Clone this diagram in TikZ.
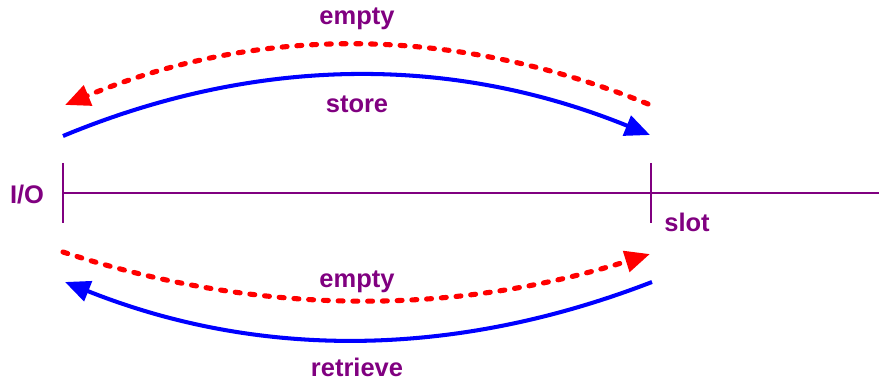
\documentclass[tikz,border=0pt]{standalone}
\usepackage{fontspec}
\setmainfont{Liberation Sans}
\usepackage{tikz}
\usetikzlibrary{calc}
\usetikzlibrary{arrows.meta}
\usetikzlibrary{positioning}
\definecolor{plum}{RGB}{128, 0, 128}
\definecolor{pureblue}{RGB}{0, 0, 255}
\definecolor{purered}{RGB}{255, 0, 0}
\tikzset{
    lbl/.style   = {text=plum, font=\fontsize{14.5}{17}\selectfont\bfseries, inner sep=0pt},
    axis/.style  = {draw=plum, line width=1.2pt},
    move/.style  = {draw=pureblue, line width=2.3pt, -{Triangle[length=0.5cm, width=0.42cm]}},
    blank/.style = {draw=purered, line width=2.9pt, line cap=round, dash pattern=on 2.8pt off 5.6pt,
                    -{Triangle[length=0.5cm, width=0.42cm, line cap=butt]}},
}

\begin{document}
\begin{tikzpicture}[x=0.02cm, y=-0.02cm]
            % Frame to ensure alignment:
            \useasboundingbox                                   (  0,   0) rectangle (879, 381);
            % Rail with the two stations:
            \coordinate (io)     at ( 63, 193);
            \coordinate (slot)   at (651, 193);
            \coordinate (railend) at (879, 193);
            \draw[axis] (io) -- (railend);
            \draw[axis] ($(io)+(0,-30)$)   -- ($(io)+(0,30)$);
            \draw[axis] ($(slot)+(0,-30)$) -- ($(slot)+(0,30)$);
            \node[lbl] (iolbl)   at ( 27, 195) {I/O};
            \node[lbl] (slotlbl) at (687, 222) {slot};
            % End points of the moves:
            \coordinate (a1) at ( 63, 136);  \coordinate (b1) at (650, 135);
            \coordinate (a2) at (648, 104);  \coordinate (b2) at ( 65, 105);
            \coordinate (a3) at ( 63, 252);  \coordinate (b3) at (650, 254);
            \coordinate (a4) at (652, 282);  \coordinate (b4) at ( 65, 282);
            % Moves above the rail:
            \draw[blank] (a2) .. controls (453,  25) and (258,  25) .. (b2);
            \draw[move]  (a1) .. controls (258,  55) and (453,  55) .. (b1);
            \node[lbl] (emptytop) at (357,  19) {empty};
            \node[lbl] (store)    at (357, 104) {store};
            % Moves below the rail:
            \draw[blank] (a3) .. controls (258, 316) and (453, 316) .. (b3);
            \draw[move]  (a4) .. controls (453, 359) and (258, 359) .. (b4);
            \node[lbl] (emptybot) at (357, 282) {empty};
            \node[lbl] (retrieve) at (357, 367) {retrieve};
        \end{tikzpicture}
\end{document}
